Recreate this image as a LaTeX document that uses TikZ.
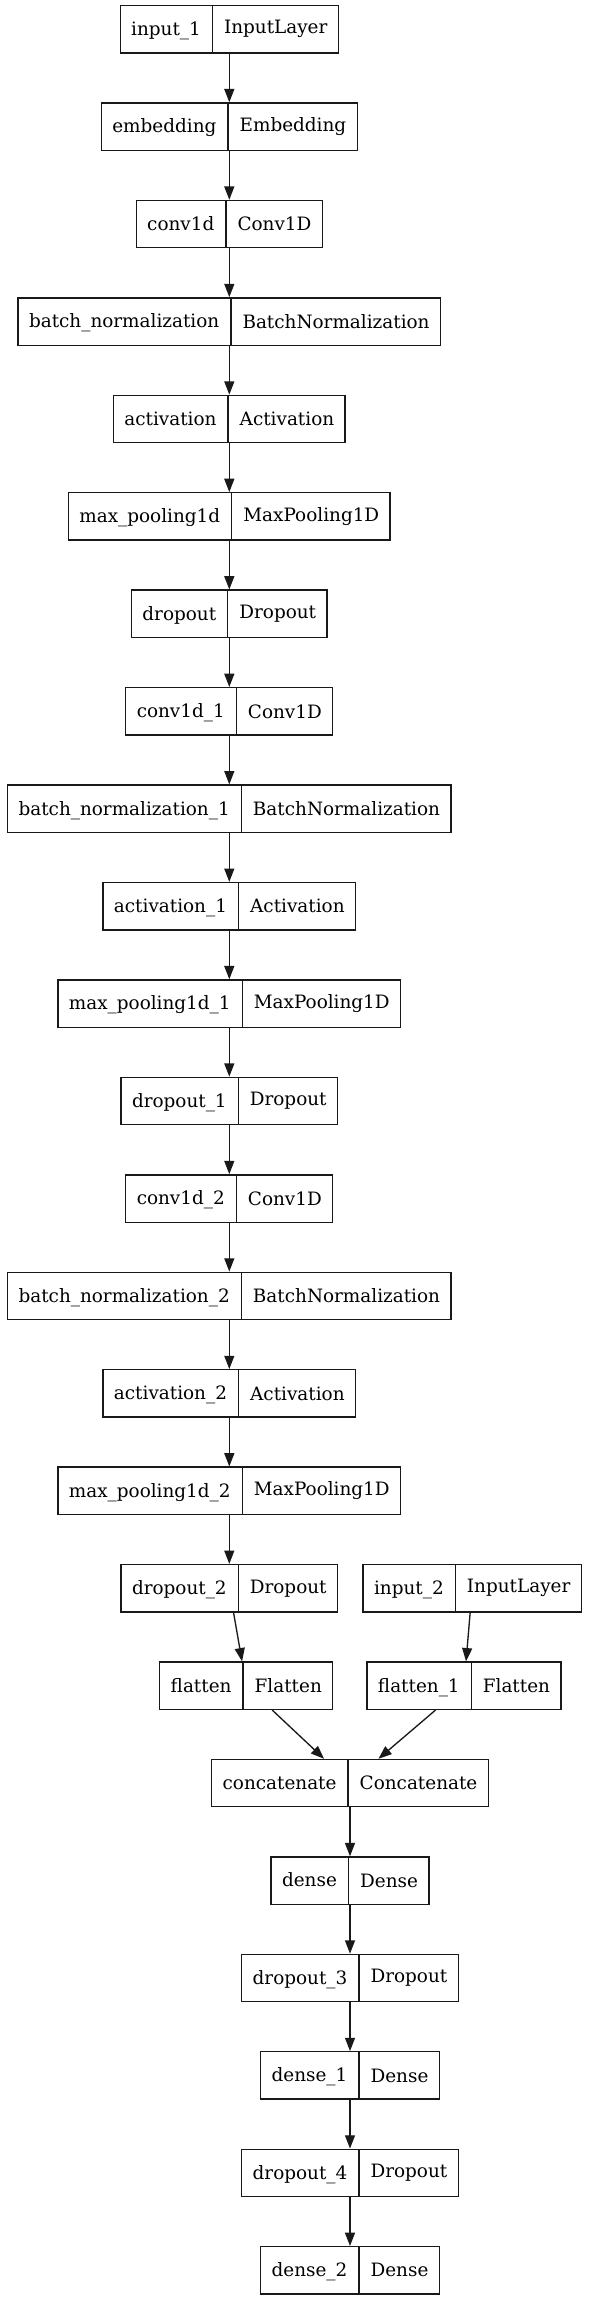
\documentclass[tikz,border=0pt]{standalone}
\usepackage{fontspec}
\setmainfont{DejaVu Serif}
\usetikzlibrary{arrows.meta,shapes.multipart}
\definecolor{LayerInk}{gray}{0.1}
\tikzset{
    net/diagram/.style={
        x=0.75pt, y=-0.75pt,
        font=\fontsize{13.8}{16}\selectfont,
        line width=1pt,
        every node/.style={outer sep=0.5pt}
    },
    net/layer/.style={
        rectangle split, rectangle split horizontal,
        rectangle split parts=2,
        draw=LayerInk, line width=1pt,
        inner xsep=8.2pt, inner ysep=0pt,
        text height=22.5pt, text depth=13pt
    },
    net/flow/.style={
        draw=LayerInk, line width=1pt,
        -{Triangle[length=10pt, width=7.5pt]}
    }
}
\begin{document}
\begin{tikzpicture}[net/diagram]
    \useasboundingbox (0,0) rectangle (589,2299);
    % first branch
    \node[net/layer] (in1) at (229.3,29.2) {input\_1 \nodepart{two} InputLayer};
    \node[net/layer] (emb) at (229.3,126.6) {embedding \nodepart{two} Embedding};
    \node[net/layer] (cv0) at (229.3,224.1) {conv1d \nodepart{two} Conv1D};
    \node[net/layer] (bn0) at (229.3,321.5) {batch\_normalization \nodepart{two} BatchNormalization};
    \node[net/layer] (ac0) at (229.3,419.0) {activation \nodepart{two} Activation};
    \node[net/layer] (mp0) at (229.3,516.4) {max\_pooling1d \nodepart{two} MaxPooling1D};
    \node[net/layer] (do0) at (229.3,613.8) {dropout \nodepart{two} Dropout};
    \node[net/layer] (cv1) at (229.3,711.3) {conv1d\_1 \nodepart{two} Conv1D};
    \node[net/layer] (bn1) at (229.3,808.7) {batch\_normalization\_1 \nodepart{two} BatchNormalization};
    \node[net/layer] (ac1) at (229.3,906.2) {activation\_1 \nodepart{two} Activation};
    \node[net/layer] (mp1) at (229.3,1003.6) {max\_pooling1d\_1 \nodepart{two} MaxPooling1D};
    \node[net/layer] (do1) at (229.3,1101.0) {dropout\_1 \nodepart{two} Dropout};
    \node[net/layer] (cv2) at (229.3,1198.5) {conv1d\_2 \nodepart{two} Conv1D};
    \node[net/layer] (bn2) at (229.3,1295.9) {batch\_normalization\_2 \nodepart{two} BatchNormalization};
    \node[net/layer] (ac2) at (229.3,1393.4) {activation\_2 \nodepart{two} Activation};
    \node[net/layer] (mp2) at (229.3,1490.8) {max\_pooling1d\_2 \nodepart{two} MaxPooling1D};
    \node[net/layer] (do2) at (229.3,1588.2) {dropout\_2 \nodepart{two} Dropout};
    % second input
    \node[net/layer] (in2) at (472.2,1588.2) {input\_2 \nodepart{two} InputLayer};
    \node[net/layer] (fl0) at (246.3,1685.7) {flatten \nodepart{two} Flatten};
    \node[net/layer] (fl1) at (464.0,1685.7) {flatten\_1 \nodepart{two} Flatten};
    % merged head
    \node[net/layer] (cat) at (350,1783.1) {concatenate \nodepart{two} Concatenate};
    \node[net/layer] (ds0) at (350,1880.6) {dense \nodepart{two} Dense};
    \node[net/layer] (do3) at (350,1978.0) {dropout\_3 \nodepart{two} Dropout};
    \node[net/layer] (ds1) at (350,2075.4) {dense\_1 \nodepart{two} Dense};
    \node[net/layer] (do4) at (350,2172.9) {dropout\_4 \nodepart{two} Dropout};
    \node[net/layer] (ds2) at (350,2270.3) {dense\_2 \nodepart{two} Dense};
    \draw[net/flow] (in1) -- (emb);
    \draw[net/flow] (emb) -- (cv0);
    \draw[net/flow] (cv0) -- (bn0);
    \draw[net/flow] (bn0) -- (ac0);
    \draw[net/flow] (ac0) -- (mp0);
    \draw[net/flow] (mp0) -- (do0);
    \draw[net/flow] (do0) -- (cv1);
    \draw[net/flow] (cv1) -- (bn1);
    \draw[net/flow] (bn1) -- (ac1);
    \draw[net/flow] (ac1) -- (mp1);
    \draw[net/flow] (mp1) -- (do1);
    \draw[net/flow] (do1) -- (cv2);
    \draw[net/flow] (cv2) -- (bn2);
    \draw[net/flow] (bn2) -- (ac2);
    \draw[net/flow] (ac2) -- (mp2);
    \draw[net/flow] (mp2) -- (do2);
    \draw[net/flow] (do2) -- (fl0);
    \draw[net/flow] (in2) -- (fl1);
    \draw[net/flow] (fl0) -- (cat);
    \draw[net/flow] (fl1) -- (cat);
    \draw[net/flow] (cat) -- (ds0);
    \draw[net/flow] (ds0) -- (do3);
    \draw[net/flow] (do3) -- (ds1);
    \draw[net/flow] (ds1) -- (do4);
    \draw[net/flow] (do4) -- (ds2);
\end{tikzpicture}
\end{document}
